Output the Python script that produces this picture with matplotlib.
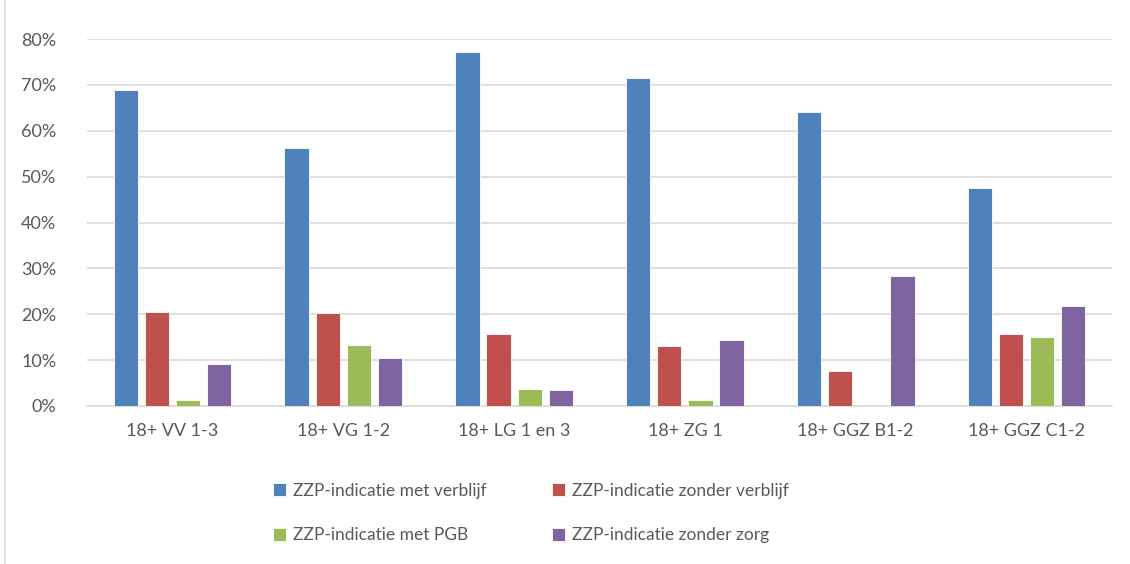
import matplotlib
matplotlib.use("Agg")
import matplotlib.pyplot as plt
import numpy as np
from matplotlib.patches import Rectangle
from matplotlib.ticker import FuncFormatter

categories = ["18+ VV 1-3", "18+ VG 1-2", "18+ LG 1 en 3", "18+ ZG 1", "18+ GGZ B1-2", "18+ GGZ C1-2"]
series_names = ["ZZP-indicatie met verblijf", "ZZP-indicatie zonder verblijf",
                "ZZP-indicatie met PGB", "ZZP-indicatie zonder zorg"]
met_verblijf = [68.9, 56.2, 77.1, 71.5, 64.1, 47.5]
zonder_verblijf = [20.5, 20.3, 15.7, 13.1, 7.6, 15.7]
met_pgb = [1.3, 13.3, 3.7, 1.3, 0.0, 15.0]
zonder_zorg = [9.2, 10.5, 3.5, 14.4, 28.3, 21.8]
colors = ["#4F81BD", "#C0504D", "#9BBB59", "#8064A2"]

plt.rcParams['font.family'] = ['Lato', 'DejaVu Sans']
txt = "#595959"

fig = plt.figure(figsize=(11.3, 5.64), dpi=100)
ax = fig.add_axes([87/1130, 1-406/564, (1112-87)/1130, (406-39)/564])

x = np.arange(len(categories))
data = [met_verblijf, zonder_verblijf, met_pgb, zonder_zorg]
w = 0.142
pitch = 0.182
handles = []
for i, (vals, c, name) in enumerate(zip(data, colors, series_names)):
    b = ax.bar(x + (i - 1.5) * pitch, vals, width=w, color=c, edgecolor="white",
               linewidth=0.6, label=name, zorder=3)
    handles.append(b)

ax.set_xlim(-0.5, len(categories) - 0.5)
ax.set_ylim(0, 80)
ax.set_yticks(np.arange(0, 81, 10))
ax.yaxis.set_major_formatter(FuncFormatter(lambda v, p: f"{int(v)}%"))
ax.set_xticks(x)
ax.set_xticklabels(categories)
ax.grid(axis="y", color="#D9D9D9", linewidth=1.2, zorder=0)
for s in ["top", "right", "left"]:
    ax.spines[s].set_visible(False)
ax.spines["bottom"].set_color("#D9D9D9")
ax.spines["bottom"].set_linewidth(1.2)
ax.tick_params(axis="both", length=0, labelsize=13, colors=txt)
ax.tick_params(axis="y", pad=22)
ax.tick_params(axis="x", pad=12)

order = [0, 2, 1, 3]
fig.legend([handles[i] for i in order], [series_names[i] for i in order],
           loc="center", bbox_to_anchor=(531/1130, 1-513/564), ncol=2, frameon=False,
           fontsize=12.5, labelcolor=txt, handlelength=0.75, handleheight=0.75,
           handletextpad=0.4, columnspacing=3.8, labelspacing=1.65)

fig.patches.append(Rectangle((5/1130, -0.01), 1.2, 1.2, transform=fig.transFigure,
                             fill=False, edgecolor="#D9D9D9", linewidth=1.2))

fig.savefig("out.png", dpi=100)
